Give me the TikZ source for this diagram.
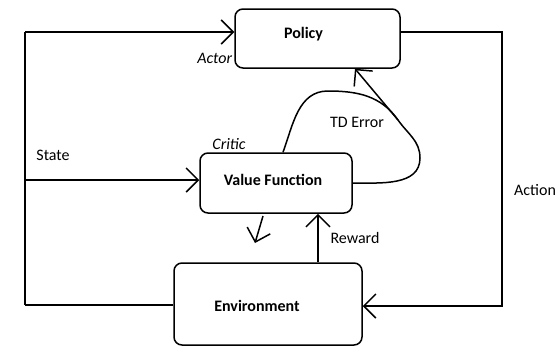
\documentclass[tikz,border=0pt]{standalone}
\usepackage{fontspec}
\setmainfont{Carlito}
\usetikzlibrary{arrows.meta,positioning}

\newcommand{\txtsize}{\fontsize{16}{19}\selectfont}
\tikzset{
 box/.style={draw, rounded corners=8pt, line width=1.5pt, inner sep=0pt},
 boxtext/.style={font=\txtsize\bfseries},
 line/.style={line width=1.5pt},
 arr/.style={line, -{Straight Barb[length=12pt,width=24pt,line width=1.5pt]}},
 lbl/.style={inner sep=2pt, font=\txtsize},
 role/.style={inner sep=2pt, font=\txtsize\itshape},
}

\begin{document}
\begin{tikzpicture}[x=1pt,y=-1pt]
 \useasboundingbox (0,0) rectangle (559,346);
 \node (policy) [box, minimum width=165pt, minimum height=59pt,
   label={[boxtext,xshift=-14pt,yshift=4pt]center:Policy}] at (317.5,38.5) {};
 \node (value)  [box, minimum width=152pt, minimum height=60pt,
   label={[boxtext,xshift=-3pt,yshift=3pt]center:Value Function}] at (276,183) {};
 \node (env)    [box, minimum width=188pt, minimum height=82pt,
   label={[boxtext,xshift=-11pt,yshift=-2pt]center:Environment}] at (268,304) {};

 \coordinate (tl) at (25,32);
 \coordinate (sl) at (25,180);
 \coordinate (bl) at (25,305);
 \coordinate (tr) at (502,32);
 \coordinate (br) at (502,306);
 \coordinate (rw) at (318,263);
 \coordinate (td) at (398,120);
 \coordinate (stub1) at (263,216);
 \coordinate (stub2) at (255,243);

 \node (actor)  [role, anchor=south east] at ([yshift=3pt]policy.south west) {Actor};
 \node (critic) [role, anchor=south west] at ([xshift=11pt]value.north west) {Critic};
 \node (state)  [lbl] at (53,155) {State};
 \node (tderr)  [lbl] at (357,122) {TD Error};
 \node (reward) [lbl] at (355,238) {Reward};
 \node (action) [lbl, anchor=west] at (512,190) {Action};

 % state feedback
 \draw[line] (tl) -- (bl);
 \draw[arr] (tl) -- (tl -| policy.west);
 \draw[arr] (sl) -- (sl -| value.west);
 \draw[line] (bl) -- (bl -| env.west);
 % action
 \draw[arr] (tr -| policy.east) -- (tr) -- (br) -- (br -| env.east);
 % reward
 \draw[arr] (env.north -| rw) -- (value.south -| rw);
 \draw[arr] (stub1) -- (stub2);
 % td error loop
 \draw[line] ([xshift=7pt]value.north) to[out=70,in=180] (328,91)
   to[out=0,in=125] (td) to[out=-55,in=90] (420,158) to[out=-90,in=0] (value.east);
 \draw[arr] (td) -- ([xshift=37.5pt]policy.south);
\end{tikzpicture}
\end{document}
